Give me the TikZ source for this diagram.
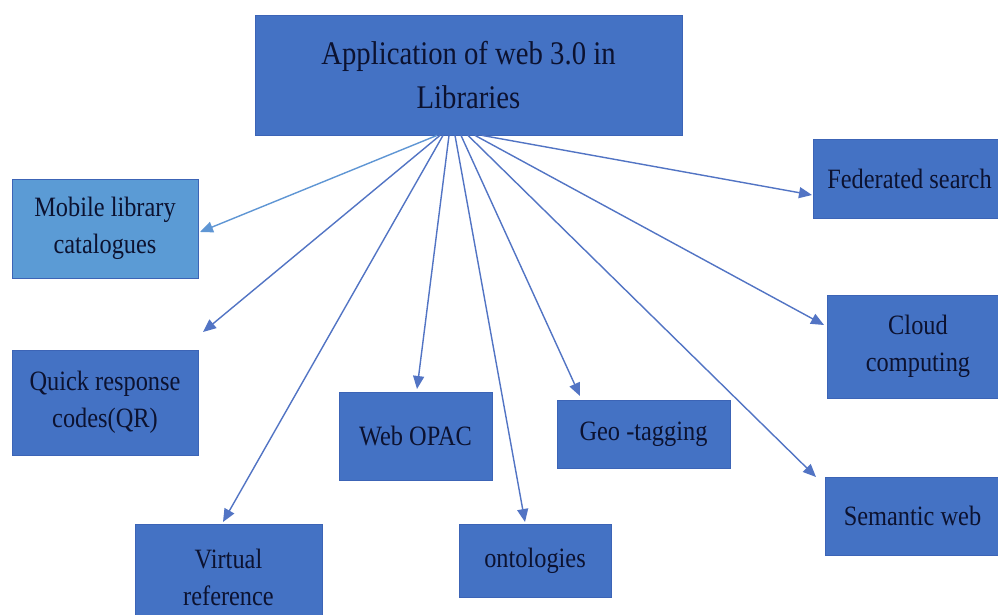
\documentclass[tikz,border=0pt]{standalone}
\usepackage{fontspec}
\setmainfont[FakeStretch=0.87]{Liberation Serif}
\usetikzlibrary{arrows.meta}
\definecolor{boxblue}{RGB}{68,114,196}
\definecolor{lightbox}{RGB}{91,155,213}
\definecolor{boxedge}{RGB}{60,100,182}
\definecolor{arrblue}{RGB}{82,116,196}
\definecolor{arrlight}{RGB}{95,150,212}
\definecolor{txt}{RGB}{12,18,48}
\begin{document}
\begin{tikzpicture}[x=1pt,y=-1pt,
  boxnode/.style={draw=boxedge,line width=0.8pt,fill=boxblue,inner sep=0pt,
    text=txt,align=center,font=\fontsize{28}{37}\selectfont},
  rootnode/.style={boxnode,font=\fontsize{33}{44}\selectfont},
  arr/.style={draw=arrblue,line width=1.4pt,-{Triangle[length=13pt,width=11pt]}},
  arrl/.style={arr,draw=arrlight}]
\useasboundingbox (0,0) rectangle (998,615);
\clip (0,0) rectangle (998,615);
\fill[white] (0,0) rectangle (998,615);

\node[rootnode,minimum width=427pt,minimum height=120pt] (root) at (468.5,75) {Application of web 3.0 in\\Libraries};

\node[boxnode,fill=lightbox,minimum width=186pt,minimum height=99pt] (mobile) at (105,228.5) {Mobile library\\catalogues};
\node[boxnode,minimum width=186pt,minimum height=105pt] (qr) at (105,402.5) {Quick response\\codes(QR)};
\node[boxnode,minimum width=187pt,minimum height=106pt] (virtual) at (228.5,577) {Virtual\\reference};
\node[boxnode,minimum width=153pt,minimum height=88pt] (opac) at (415.5,436) {Web OPAC};
\node[boxnode,minimum width=152pt,minimum height=73pt] (onto) at (535,560.5) {ontologies};
\node[boxnode,minimum width=173pt,minimum height=68pt] (geo) at (643.5,434) {Geo -tagging};
\node[boxnode,minimum width=193pt,minimum height=79pt] (fed) at (909.5,178.5) {Federated search};
\node[boxnode,minimum width=182pt,minimum height=103pt] (cloud) at (918,346.5) {Cloud\\computing};
\node[boxnode,minimum width=175pt,minimum height=78pt] (sem) at (912.5,516) {Semantic web};

\coordinate (tmobile) at (200,232);
\coordinate (tqr) at (203,332);
\coordinate (tvirtual) at (223,522);
\coordinate (topac) at (417,389);
\coordinate (tonto) at (525,522);
\coordinate (tgeo) at (580,396);
\coordinate (tsem) at (816,477);
\coordinate (tcloud) at (824,325);
\coordinate (tfed) at (812,195);

\draw[arrl] ([xshift=-31.5pt]root.south) -- (tmobile);
\draw[arr] ([xshift=-28.5pt]root.south) -- (tqr);
\draw[arr] ([xshift=-25.5pt]root.south) -- (tvirtual);
\draw[arr] ([xshift=-19.5pt]root.south) -- (topac);
\draw[arr] ([xshift=-13.5pt]root.south) -- (tonto);
\draw[arr] ([xshift=-7.5pt]root.south) -- (tgeo);
\draw[arr] ([xshift=-0.5pt]root.south) -- (tsem);
\draw[arr] ([xshift=6.5pt]root.south) -- (tcloud);
\draw[arr] ([xshift=13.5pt]root.south) -- (tfed);
\end{tikzpicture}
\end{document}
